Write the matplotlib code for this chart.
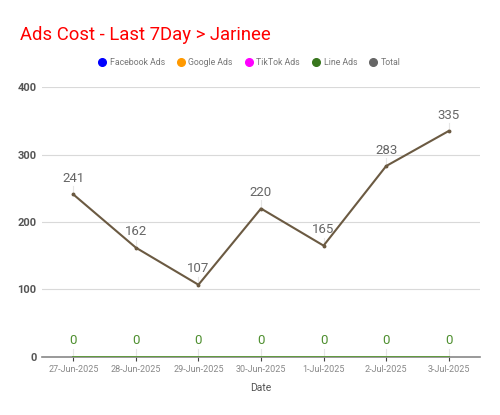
import numpy as np
import matplotlib
matplotlib.use('Agg')
import matplotlib.pyplot as plt
from matplotlib.lines import Line2D

plt.rcParams['font.family'] = ['Roboto', 'DejaVu Sans']

dates = ['27-Jun-2025', '28-Jun-2025', '29-Jun-2025', '30-Jun-2025',
         '1-Jul-2025', '2-Jul-2025', '3-Jul-2025']
facebook = [0, 0, 0, 0, 0, 0, 0]
google = [0, 0, 0, 0, 0, 0, 0]
tiktok = [0, 0, 0, 0, 0, 0, 0]
line_ads = [0, 0, 0, 0, 0, 0, 0]
total = [241, 162, 107, 220, 165, 283, 335]

fig = plt.figure(figsize=(5, 4.15), dpi=100)
ax = fig.add_axes([0.084, 0.14, 0.876, 0.65])
x = np.arange(len(dates))

ax.plot(x, facebook, color='#0000ff', lw=1.2, zorder=3)
ax.plot(x, google, color='#ff9900', lw=1.2, zorder=3)
ax.plot(x, tiktok, color='#ff00ff', lw=1.2, zorder=3)
ax.plot(x, line_ads, color='#5e9e3c', lw=1.4, zorder=4)
ax.plot(x, total, color='#6b5a42', lw=1.5, marker='o', ms=1.8, zorder=5)

# data labels with little leader lines
for i, v in enumerate(total):
    ax.plot([i, i], [v + 4, v + 12], color='#e6e6e6', lw=0.8, zorder=2)
    ax.text(i, v + 14, str(v), ha='center', va='bottom', fontsize=9.5, color='#666666')
for i, v in enumerate(line_ads):
    ax.plot([i, i], [v + 1, v + 12], color='#e6e6e6', lw=0.8, zorder=2)
    ax.text(i, v + 14, str(v), ha='center', va='bottom', fontsize=9.5, color='#4e8f2f')

ax.set_xlim(-0.5, 6.5)
ax.set_ylim(0, 400)
ax.set_yticks([0, 100, 200, 300, 400])
ax.set_xticks(x)
ax.set_xticklabels(dates, fontsize=6.5, color='#888888')
ax.tick_params(axis='y', length=0, labelsize=8, labelcolor='#555555', pad=4)
for lbl in ax.get_yticklabels():
    lbl.set_fontweight('bold')
ax.tick_params(axis='x', length=3, color='#444444', pad=3)
ax.grid(axis='y', color='#d9d9d9', lw=0.8)
ax.set_axisbelow(True)
for s in ['top', 'right', 'left']:
    ax.spines[s].set_visible(False)
ax.spines['bottom'].set_color('#888888')
ax.spines['bottom'].set_linewidth(1.2)
ax.set_xlabel('Date', fontsize=7.5, color='#555555', labelpad=6)

fig.text(0.04, 0.915, 'Ads Cost - Last 7Day > Jarinee', fontsize=13.3, color='#ff0000',
         ha='left', va='center')

handles = [Line2D([], [], marker='o', ls='', color=c, ms=5.5)
           for c in ['#0000ff', '#ff9900', '#ff00ff', '#38761d', '#666666']]
names = ['Facebook Ads', 'Google Ads', 'TikTok Ads', 'Line Ads', 'Total']
fig.legend(handles, names, loc='center', bbox_to_anchor=(0.5, 0.85), ncol=5, frameon=False,
           fontsize=6.3, labelcolor='#777777', handletextpad=0.5, columnspacing=1.5,
           handlelength=0.7)

fig.savefig('out.png', dpi=100)
